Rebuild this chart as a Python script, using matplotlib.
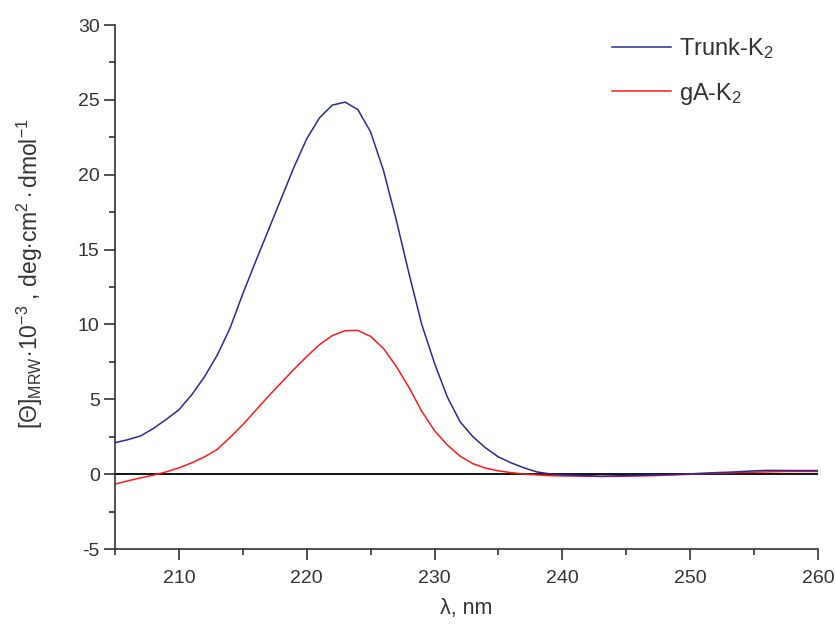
import matplotlib
matplotlib.use("Agg")
import matplotlib.pyplot as plt
from matplotlib.ticker import MultipleLocator

plt.rcParams['font.family'] = ['Liberation Sans', 'DejaVu Sans']
plt.rcParams['mathtext.fontset'] = 'custom'
plt.rcParams['mathtext.rm'] = 'Liberation Sans'
plt.rcParams['mathtext.it'] = 'Liberation Sans:italic'
plt.rcParams['mathtext.bf'] = 'Liberation Sans:bold'
plt.rcParams['axes.unicode_minus'] = False

wavelength = list(range(205, 261))
trunk_k2 = [2.1, 2.3, 2.55, 3.05, 3.65, 4.3, 5.3, 6.5, 7.95, 9.75,
            12.05, 14.2, 16.3, 18.4, 20.5, 22.4, 23.8, 24.65, 24.85, 24.35,
            22.85, 20.3, 17.0, 13.4, 10.0, 7.4, 5.15, 3.5, 2.5, 1.75,
            1.15, 0.75, 0.42, 0.15, 0.02, -0.05, -0.08, -0.1, -0.15, -0.12,
            -0.1, -0.08, -0.06, -0.04, -0.02, 0.02, 0.06, 0.1, 0.13, 0.17,
            0.22, 0.25, 0.25, 0.24, 0.24, 0.24]
ga_k2 = [-0.67, -0.45, -0.25, -0.07, 0.15, 0.42, 0.75, 1.15, 1.65, 2.45,
         3.3, 4.25, 5.2, 6.1, 7.0, 7.85, 8.65, 9.25, 9.58, 9.6,
         9.2, 8.4, 7.2, 5.8, 4.2, 2.9, 1.95, 1.2, 0.7, 0.4,
         0.22, 0.1, 0.0, -0.05, -0.1, -0.12, -0.13, -0.14, -0.15, -0.15,
         -0.14, -0.12, -0.1, -0.07, -0.04, -0.01, 0.03, 0.06, 0.09, 0.11,
         0.13, 0.15, 0.17, 0.18, 0.18, 0.18]

x_ticks = [210, 220, 230, 240, 250, 260]
y_ticks = [-5, 0, 5, 10, 15, 20, 25, 30]

fig = plt.figure(figsize=(8.36, 6.24), dpi=100)
ax = fig.add_axes([115/836, 1 - 549/624, (818 - 115)/836, (549 - 25)/624])

ax.axhline(0, color='black', lw=1.3, zorder=1)
ax.plot(wavelength, trunk_k2, color='#2a2a96', lw=1.1, label='Trunk-K$_2$', zorder=3)
ax.plot(wavelength, ga_k2, color='#ff1a1a', lw=1.1, label='gA-K$_2$', zorder=2)

ax.set_xlim(205, 260)
ax.set_ylim(-5, 30)
ax.set_xticks(x_ticks)
ax.set_yticks(y_ticks)
ax.xaxis.set_minor_locator(MultipleLocator(5))
ax.yaxis.set_minor_locator(MultipleLocator(2.5))

for s in ['top', 'right']:
    ax.spines[s].set_visible(False)
for s in ['left', 'bottom']:
    ax.spines[s].set_color('#333333')
    ax.spines[s].set_linewidth(1.2)

ax.tick_params(which='major', direction='out', length=8, width=1.2,
               color='#333333', labelsize=14, labelcolor='#333333')
ax.tick_params(axis='y', which='major', pad=3)
ax.tick_params(axis='x', which='major', pad=7)
ax.tick_params(which='minor', direction='out', length=4.5, width=1.2, color='#333333')

ax.set_xlabel('λ, nm', fontsize=15.5, color='#333333', labelpad=8)
ax.set_ylabel(r'$[\Theta]_{\mathrm{MRW}}\!\cdot\!10^{-3}$ , deg$\cdot$cm$^{2}\cdot$dmol$^{-1}$',
              fontsize=16.5, color='#333333')
ax.yaxis.set_label_coords(-0.100, 0.525)

leg = ax.legend(loc='upper right', frameon=False, fontsize=17, handlelength=2.5,
                handletextpad=0.35, labelspacing=0.85, bbox_to_anchor=(0.967, 1.02))
for t in leg.get_texts():
    t.set_color('#333333')

fig.savefig('out.png', dpi=100)
